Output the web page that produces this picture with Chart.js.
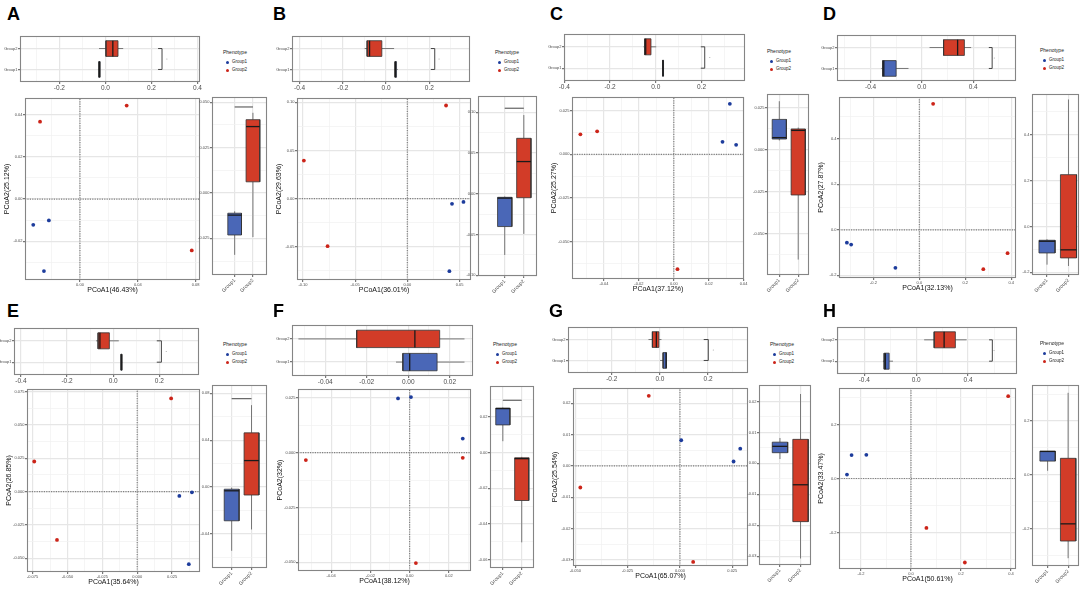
<!DOCTYPE html>
<html>
<head>
<meta charset="utf-8">
<script src="https://cdn.jsdelivr.net/npm/chart.js@4.4.1/dist/chart.umd.min.js"></script>
<style>
  body { margin: 0; background: #fff; }
  #fig { position: relative; width: 1084px; height: 595px; overflow: hidden; font-family: 'Liberation Sans', Arial, sans-serif; }
  #fig canvas { position: absolute; }
  .tag { position: absolute; font-weight: bold; font-size: 18px; line-height: 1; color: #000; }
  .leg { position: absolute; color: #222; line-height: 1; white-space: nowrap; }
  .leg .t { font-size: 5px; margin-bottom: 3px; }
  .leg .r { font-size: 4.5px; height: 8px; display: flex; align-items: center; }
  .leg .d { width: 3px; height: 3px; border-radius: 50%; margin: 0 3px 0 3px; }
</style>
</head>
<body>
<div id="fig"></div>
<script>
const FONT = "'Liberation Sans', Arial, sans-serif";

// ---- data ----
const panelLabels = ['A', 'B', 'C', 'D', 'E', 'F', 'G', 'H'];
const groups = ['Group1', 'Group2'];
const pc1Titles = ['PCoA1(46.43%)', 'PCoA1(36.01%)', 'PCoA1(37.12%)', 'PCoA1(32.13%)',
                   'PCoA1(35.64%)', 'PCoA1(38.12%)', 'PCoA1(65.07%)', 'PCoA1(50.61%)'];
const pc2Titles = ['PCoA2(25.12%)', 'PCoA2(29.63%)', 'PCoA2(25.27%)', 'PCoA2(27.87%)',
                   'PCoA2(26.85%)', 'PCoA2(32%)', 'PCoA2(25.54%)', 'PCoA2(33.47%)'];

const group1PC1 = [
  [-0.0323, -0.0215, -0.0249], [0.0428, 0.0538, 0.0403], [0.0321, 0.0279, 0.0357], [-0.3157, -0.297, -0.1043],
  [0.0302, 0.0392, 0.037], [-0.0059, 0.0007, 0.0271], [0.0006, 0.0288, 0.0256], [-0.2377, -0.1786, -0.2561]
];
const group1PC2 = [
  [-0.0122, -0.0101, -0.0341], [-0.0054, -0.0034, -0.0752], [0.0288, 0.0071, 0.0054], [-0.0561, -0.0647, -0.1669],
  [-0.0032, -0.0005, -0.0544], [0.0247, 0.0253, 0.0064], [0.0082, 0.0055, 0.0014], [0.0866, 0.0878, 0.0146]
];
const group2PC1 = [
  [-0.0276, 0.0323, 0.0773], [0.0371, -0.0991, -0.0764], [-0.0535, -0.0439, 0.0021], [0.06, 0.2786, 0.3843],
  [0.0243, -0.0738, -0.0575], [0.0271, -0.0529, 0.0032], [-0.0149, -0.0476, 0.0063], [0.3888, 0.0617, 0.2154]
];
const group2PC2 = [
  [0.0366, 0.0442, -0.0243], [0.0966, 0.0395, -0.0493], [0.0114, 0.0131, -0.0656], [0.554, -0.1727, -0.1022],
  [0.0699, 0.0226, -0.0362], [-0.0024, -0.0034, -0.0504], [0.0224, -0.0069, -0.0307], [0.3049, -0.183, -0.311]
];

// axis ranges and tick steps
const pc1Range = [[-0.038, 0.083], [-0.1057, 0.061], [-0.0583, 0.0402], [-0.35, 0.421],
                  [-0.079, 0.045], [-0.0569, 0.0313], [-0.0511, 0.0325], [-0.288, 0.42]];
const pc1Step = [0.04, 0.05, 0.02, 0.2, 0.025, 0.02, 0.025, 0.2];
const pc2Range = [[-0.0383, 0.0478], [-0.0844, 0.1044], [-0.0712, 0.0327], [-0.2115, 0.584],
                  [-0.0603, 0.077], [-0.054, 0.029], [-0.032, 0.0249], [-0.335, 0.335]];
const pc2Step = [0.02, 0.05, 0.025, 0.2, 0.025, 0.025, 0.01, 0.2];
const sideRange = [[-0.0452, 0.0529], [-0.101, 0.12], [-0.0748, 0.0331], [-0.212, 0.578],
                   [-0.0691, 0.0871], [-0.0648, 0.0374], [-0.0328, 0.0253], [-0.34, 0.334]];
const sideStep = [0.025, 0.05, 0.025, 0.2, 0.04, 0.02, 0.01, 0.2];
const sideGroupRange = [[-0.24, 2.77], [-0.4, 2.69], [0.35, 2.57], [0.3, 2.49],
                        [0.01, 2.78], [0.32, 2.65], [-0.02, 2.51], [0.24, 2.53]];
const topRange = [[-0.371, 0.411], [-0.435, 0.388], [-0.401, 0.39], [-0.662, 0.734],
                  [-0.43, 0.372], [-0.056, 0.0312], [-0.382, 0.366], [-0.61, 0.777]];
const topStep = [0.2, 0.2, 0.2, 0.4, 0.2, 0.02, 0.2, 0.4];
// significance bracket in the top box plot: [left, right, label dot]
const topBracket = [[0.229, 0.246, 0.267], [0.207, 0.225, 0.245], [0.197, 0.214, 0.236], [0.522, 0.548, 0.565],
                    [0.189, 0.209, 0.23], null, [0.182, 0.201, 0.222], [0.562, 0.587, 0.6]];
const sideBracket = [0.0474, 0.105, null, null, 0.0754, 0.0294, null, null];

// ---- layout (page pixels: left, top, right, bottom) ----
const topRect = [[20, 33, 203, 82], [292, 33, 473, 82], [564, 31, 748, 81], [837, 32, 1019, 81],
                 [14, 325, 202, 375], [292, 325, 473, 376], [568, 324, 751, 373], [837, 324, 1020, 374]];
const scatterRect = [[25, 95, 203, 280], [297, 95, 474, 280], [572, 94, 747, 279], [839, 94, 1019, 278],
                     [27, 386, 203, 572], [298, 386, 474, 571], [573, 385, 751, 566], [839, 385, 1019, 569]];
const sideRect = [[212, 97, 267, 275], [478, 96, 537, 276], [767, 94, 809, 275], [1032, 94, 1079, 275],
                  [212, 385, 267, 568], [490, 386, 534, 568], [759, 385, 811, 565], [1032, 385, 1079, 566]];
const legendPos = [[223, 50], [495, 50], [767, 49], [1040, 48], [223, 342], [493, 342], [770, 342], [1040, 341]];
const tagPos = [[7, 5], [273, 5], [550, 5], [823, 5], [7, 302], [273, 302], [549, 302], [823, 302]];

const blue = '#1d3c9c', red = '#cc2419';
const blueFill = '#4a67b7', redFill = '#d23c28';

const fig = document.getElementById('fig');

function boxStats(vals) {
  const s = [...vals].sort((a, b) => a - b);
  const q = p => {
    const h = (s.length - 1) * p, lo = Math.floor(h);
    const hi = Math.min(lo + 1, s.length - 1);
    return s[lo] + (h - lo) * (s[hi] - s[lo]);
  };
  return { min: s[0], q1: q(0.25), med: q(0.5), q3: q(0.75), max: s[s.length - 1] };
}

function decimals(step) {
  const s = String(step);
  return s.includes('.') ? s.split('.')[1].length : 0;
}
function isMajor(v, step) {
  const r = v / step;
  return Math.abs(r - Math.round(r)) < 1e-6;
}
// major ticks plus minor ones half way between (ggplot style)
function gridTicks(min, max, step) {
  const h = step / 2, out = [];
  for (let k = Math.ceil(min / h - 1e-9); k * h <= max + 1e-12; k++) {
    const v = +(k * h).toFixed(10);
    if (v > min && v < max) out.push({ value: v });
  }
  return out;
}
function fixSize(prop, size) {
  return s => {
    s[prop] = size;
    s.paddingLeft = s.paddingRight = s.paddingTop = s.paddingBottom = 0;
  };
}

function valueScale(min, max, step, fontSize, extra) {
  const dec = decimals(step);
  const major = c => c.tick && isMajor(c.tick.value, step);
  const cfg = {
    type: 'linear', min, max,
    afterBuildTicks: s => { s.ticks = gridTicks(min, max, step); },
    ticks: {
      autoSkip: false, maxRotation: 0, minRotation: 0, padding: 0.5, color: '#4d4d4d',
      font: { family: FONT, size: fontSize },
      callback: v => isMajor(v, step) ? v.toFixed(dec) : ''
    },
    grid: {
      color: c => major(c) ? '#e6e6e6' : '#f1f1f1',
      lineWidth: c => major(c) ? 1.2 : 0.7,
      tickLength: 2,
      tickColor: c => major(c) ? '#777' : 'rgba(0,0,0,0)'
    },
    border: { display: false }
  };
  return Object.assign(cfg, extra);
}

function groupScale(min, max, fontSize, extra, tickExtra) {
  const cfg = {
    type: 'linear', min, max,
    afterBuildTicks: s => { s.ticks = groups.map((g, k) => ({ value: k + 1 })); },
    ticks: Object.assign({
      autoSkip: false, padding: 0.5, color: '#4d4d4d',
      font: { family: FONT, size: fontSize },
      callback: v => groups[Math.round(v) - 1]
    }, tickExtra || {}),
    grid: { color: '#e6e6e6', lineWidth: 1.2, tickLength: 2, tickColor: '#777' },
    border: { display: false }
  };
  return Object.assign(cfg, extra);
}

function seg(points, color, width, more) {
  return Object.assign({
    type: 'line', data: points, showLine: true, borderColor: color, borderWidth: width,
    pointRadius: 0, fill: false, tension: 0
  }, more || {});
}

// one ggplot style box: median, box, two whiskers
function boxSets(vals, pos, horizontal, fillColor) {
  const st = boxStats(vals);
  const w = 0.375;
  const P = (v, c) => horizontal ? { x: v, y: c } : { x: c, y: v };
  return [
    seg([P(st.med, pos - w), P(st.med, pos + w)], '#1a1a1a', 1.3),
    seg([P(st.q1, pos - w), P(st.q3, pos - w), P(st.q3, pos + w), P(st.q1, pos + w), P(st.q1, pos - w)],
        '#333', 0.8, { fill: 'shape', backgroundColor: fillColor }),
    seg([P(st.min, pos), P(st.q1, pos)], '#777', 1),
    seg([P(st.q3, pos), P(st.max, pos)], '#777', 1)
  ];
}

const frame = {
  id: 'frame',
  afterDraw(chart) {
    const a = chart.chartArea, ctx = chart.ctx;
    ctx.save();
    ctx.strokeStyle = '#858585';
    ctx.lineWidth = 1.1;
    ctx.strokeRect(a.left + 0.5, a.top + 0.5, a.right - a.left - 1, a.bottom - a.top - 1);
    ctx.restore();
  }
};

function place(rect, axisW, axisH) {
  const [l, t, r, b] = rect;
  const cv = document.createElement('canvas');
  cv.width = r - l + axisW + 1;
  cv.height = b - t + 1 + axisH;
  cv.style.left = (l - axisW) + 'px';
  cv.style.top = (t - 1) + 'px';
  fig.appendChild(cv);
  return cv;
}

function baseOptions(scales) {
  return {
    responsive: false, animation: false, events: [],
    layout: { padding: { top: 1, right: 1, left: 0, bottom: 0 } },
    plugins: { legend: { display: false }, tooltip: { enabled: false } },
    scales
  };
}

function pts(xs, ys) {
  return xs.map((x, k) => ({ x, y: ys[k] }));
}

panelLabels.forEach((label, i) => {
  // panel letter
  const tag = document.createElement('div');
  tag.className = 'tag';
  tag.textContent = label;
  tag.style.left = tagPos[i][0] + 'px';
  tag.style.top = tagPos[i][1] + 'px';
  fig.appendChild(tag);

  // legend
  const leg = document.createElement('div');
  leg.className = 'leg';
  leg.style.left = legendPos[i][0] + 'px';
  leg.style.top = legendPos[i][1] + 'px';
  leg.innerHTML = '<div class="t">Phenotype</div>' +
    groups.map((g, k) => `<div class="r"><span class="d" style="background:${k ? red : blue}"></span>${g}</div>`).join('');
  fig.appendChild(leg);

  const [x0, x1] = pc1Range[i];
  const [y0, y1] = pc2Range[i];

  // main PCoA scatter
  new Chart(place(scatterRect[i], 22, 14), {
    type: 'scatter',
    data: {
      datasets: [
        { data: pts(group1PC1[i], group1PC2[i]), backgroundColor: blue, pointRadius: 1.9, borderWidth: 0 },
        { data: pts(group2PC1[i], group2PC2[i]), backgroundColor: red, pointRadius: 1.9, borderWidth: 0 },
        seg([{ x: x0, y: 0 }, { x: x1, y: 0 }], '#808080', 1.2, { borderDash: [1.2, 1.2] }),
        seg([{ x: 0, y: y0 }, { x: 0, y: y1 }], '#808080', 1.2, { borderDash: [1.2, 1.2] })
      ]
    },
    options: baseOptions({
      x: valueScale(x0, x1, pc1Step[i], 4, {
        position: 'bottom', afterFit: fixSize('height', 14),
        title: { display: true, text: pc1Titles[i], color: '#111', padding: 0, font: { family: FONT, size: 7 } }
      }),
      y: valueScale(y0, y1, pc2Step[i], 4, {
        position: 'left', afterFit: fixSize('width', 22),
        title: { display: true, text: pc2Titles[i], color: '#111', padding: 0, font: { family: FONT, size: 7 } }
      })
    }),
    plugins: [frame]
  });

  // top box plot of PCoA1
  const topSets = [
    ...boxSets(group2PC1[i], 2, true, redFill),
    ...boxSets(group1PC1[i], 1, true, blueFill)
  ];
  const tb = topBracket[i];
  if (tb) {
    topSets.push(seg([{ x: tb[0], y: 1 }, { x: tb[1], y: 1 }, { x: tb[1], y: 2 }, { x: tb[0], y: 2 }], '#444', 1));
    topSets.push({ data: [{ x: tb[2], y: 1.5 }], backgroundColor: '#aaa', pointRadius: 0.6, borderWidth: 0 });
  }
  new Chart(place(topRect[i], 18, 12), {
    type: 'scatter',
    data: { datasets: topSets },
    options: baseOptions({
      x: valueScale(topRange[i][0], topRange[i][1], topStep[i], 6.5, { position: 'bottom', afterFit: fixSize('height', 12) }),
      y: groupScale(0.4, 2.6, 4, { position: 'left', afterFit: fixSize('width', 18) })
    }),
    plugins: [frame]
  });

  // side box plot of PCoA2
  const sideSets = [
    ...boxSets(group1PC2[i], 1, false, blueFill),
    ...boxSets(group2PC2[i], 2, false, redFill)
  ];
  if (sideBracket[i] !== null) {
    sideSets.push(seg([{ x: 1, y: sideBracket[i] }, { x: 2, y: sideBracket[i] }], '#444', 1));
  }
  new Chart(place(sideRect[i], 14, 22), {
    type: 'scatter',
    data: { datasets: sideSets },
    options: baseOptions({
      x: groupScale(sideGroupRange[i][0], sideGroupRange[i][1], 5,
        { position: 'bottom', afterFit: fixSize('height', 22) }, { minRotation: 45, maxRotation: 45 }),
      y: valueScale(sideRange[i][0], sideRange[i][1], sideStep[i], 4, { position: 'left', afterFit: fixSize('width', 14) })
    }),
    plugins: [frame]
  });
});
</script>
</body>
</html>
